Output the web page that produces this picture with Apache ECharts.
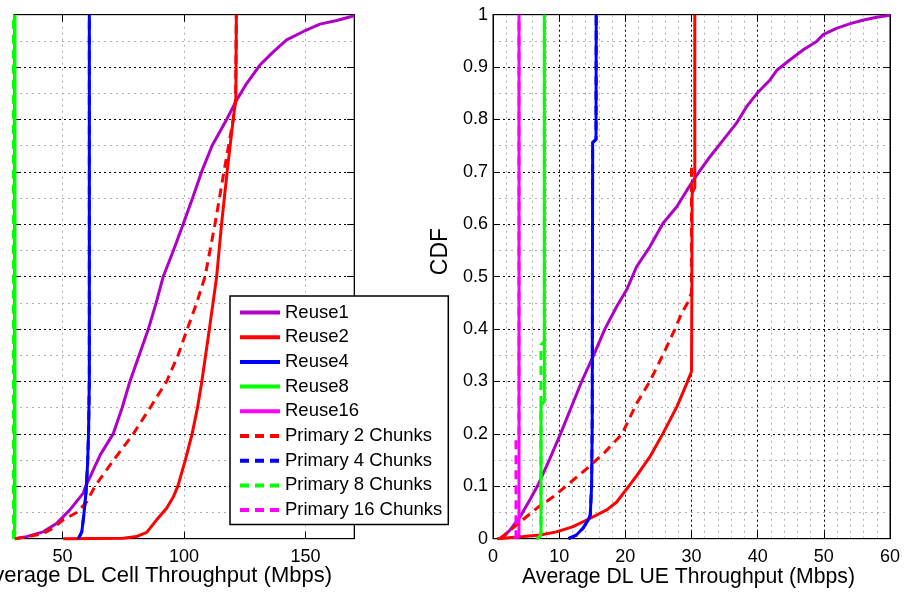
<!DOCTYPE html>
<html>
<head>
<meta charset="utf-8">
<script src="https://cdn.jsdelivr.net/npm/echarts@6/dist/echarts.min.js"></script>
<style>html,body{margin:0;padding:0;background:#fff}#c{width:906px;height:592px}</style>
</head>
<body>
<div id="c"></div>
<script>
// ---------- DATA ----------
const seriesNames = ['Reuse1','Reuse2','Reuse4','Reuse8','Reuse16','Primary 2 Chunks','Primary 4 Chunks','Primary 8 Chunks','Primary 16 Chunks'];
const cellTicks = [50, 100, 150];
const ueTicks = [0, 10, 20, 30, 40, 50, 60];
const cdfTicks = [0, 0.1, 0.2, 0.3, 0.4, 0.5, 0.6, 0.7, 0.8, 0.9, 1];

// Left plot: Average DL Cell Throughput (Mbps) vs CDF
const cellReuse1 = [[30.4,0],[35.2,0.004],[42,0.013],[47.5,0.029],[53,0.055],[58.5,0.087],[59.5,0.1],[62.5,0.13],[65.5,0.16],[70.8,0.2],[74.5,0.25],[77.7,0.3],[81.5,0.35],[85.3,0.4],[88.5,0.45],[91.4,0.5],[95.6,0.55],[99.6,0.6],[103.5,0.65],[107.2,0.7],[111.5,0.75],[117.5,0.8],[121.6,0.837],[125.8,0.869],[131.2,0.904],[136.7,0.929],[142.2,0.952],[149.1,0.968],[155.9,0.982],[162.8,0.989],[170,0.998]];
const cellReuse2 = [[50.3,0],[75,0.001],[80.4,0.004],[84.6,0.012],[88.7,0.036],[92.8,0.058],[95.6,0.08],[97.4,0.1],[100.5,0.15],[103.3,0.2],[105.5,0.25],[107.3,0.3],[110.4,0.4],[113.4,0.5],[115.4,0.6],[117.7,0.7],[120.2,0.8],[121.3,0.84],[121.5,1]];
const cellReuse4 = [[56.5,0],[57.9,0.013],[58.8,0.048],[59.6,0.087],[60.3,0.144],[60.7,0.207],[61.0,0.303],[61.0,1]];
const cellReuse8 = [[30.0,0],[30.3,0.01],[30.4,0.05],[30.4,1]];
const cellPrim2 = [[30.4,0],[36,0.004],[42,0.01],[46,0.02],[50.3,0.036],[55.8,0.05],[59.9,0.07],[63.3,0.1],[71,0.15],[79.1,0.2],[86,0.25],[92.8,0.3],[97.5,0.35],[101.3,0.4],[105.2,0.45],[108.6,0.5],[112.7,0.6],[116.4,0.7],[120.2,0.8],[121.2,0.84],[121.5,1]];
const cellPrim4 = [[56.5,0],[57.9,0.013],[58.8,0.048],[59.6,0.087],[60.3,0.144],[60.7,0.207],[61.0,0.303],[61.0,1]];
const cellPrim8 = [[29.7,0],[29.7,1]];

// Right plot: Average DL UE Throughput (Mbps) vs CDF
const ueReuse1 = [[1.2,0],[1.6,0.004],[2.6,0.017],[4.1,0.042],[5.6,0.075],[6.7,0.1],[8.5,0.15],[10.2,0.2],[11.8,0.25],[13.4,0.3],[15.2,0.35],[16.9,0.4],[18.7,0.443],[20.2,0.475],[21.7,0.519],[23.7,0.557],[25.7,0.602],[27.8,0.634],[29.8,0.675],[31.3,0.703],[32.8,0.729],[34.8,0.761],[36.8,0.793],[38.3,0.824],[39.9,0.85],[41.9,0.876],[42.9,0.894],[44.9,0.914],[46.9,0.933],[48.9,0.949],[49.9,0.962],[51.9,0.974],[54,0.983],[56,0.99],[58,0.995],[60,0.999]];
const ueReuse2 = [[0.6,0],[4.6,0.004],[7.1,0.007],[9.6,0.013],[12.1,0.023],[14.7,0.039],[17.2,0.055],[18.7,0.07],[20.5,0.1],[21.7,0.12],[23.7,0.156],[25.7,0.201],[27.8,0.252],[29.3,0.297],[30.0,0.319],[30.05,0.46],[30.1,0.66],[30.5,0.67],[30.5,1]];
const ueReuse4 = [[11.4,0],[12.6,0.007],[13.6,0.02],[14.4,0.036],[14.7,0.045],[14.9,0.1],[15.0,0.227],[15.06,0.756],[15.57,0.762],[15.6,1]];
const ueReuse8 = [[6.6,0],[7.1,0.004],[7.25,0.01],[7.25,0.255],[7.76,0.262],[7.76,1]];
const ueReuse16 = [[3.6,0],[3.93,0.005],[3.93,1]];
const uePrim2 = [[1.0,0],[2.6,0.016],[4.4,0.035],[6.6,0.058],[9.1,0.08],[11,0.1],[14.3,0.135],[16.9,0.165],[19.5,0.2],[21.7,0.258],[23.7,0.3],[25.8,0.354],[27.5,0.4],[28.5,0.43],[29.5,0.452],[30.0,0.47],[30.0,0.72]];
const uePrim4 = [[11.4,0],[12.6,0.007],[13.6,0.02],[14.4,0.036],[14.7,0.045],[14.9,0.1],[15.0,0.227],[15.06,0.756],[15.57,0.762],[15.6,1]];
const uePrim8 = [[6.7,0],[7.1,0.005],[7.25,0.01],[7.25,0.37],[7.76,0.376],[7.76,1]];
const uePrim16 = [[3.2,0],[3.48,0.005],[3.48,0.19],[3.93,0.196],[3.93,1]];

// ---------- STYLE ----------
const FONT = '"Liberation Sans", Arial, Helvetica, sans-serif';
const colors = {Reuse1:'#B000C8', Reuse2:'#FF0000', Reuse4:'#0000FF', Reuse8:'#00FF00', Reuse16:'#FF00FF',
  'Primary 2 Chunks':'#FF0000','Primary 4 Chunks':'#0000FF','Primary 8 Chunks':'#00FF00','Primary 16 Chunks':'#FF00FF'};
const DASH = [9, 6];
const majorGrid = {show:true, lineStyle:{color:'#000', width:1, type:[2,3]}};
const minorGrid = {show:true, lineStyle:{color:'#b0b0b0', width:1, type:[2,4]}};
const axisLine = {show:true, onZero:false, lineStyle:{color:'#000', width:1}};
const tick = {show:true, inside:true, length:7, lineStyle:{color:'#000', width:1}};
const lbl = {color:'#000', fontSize:18, fontFamily:FONT};

const G0 = {left:14, top:14.7, width:340.2, height:524};
const G1 = {left:493, top:14.7, width:397, height:524};

function mk(name, data, xi, dashed) {
  return {
    name, type:'line', data, xAxisIndex:xi, yAxisIndex:xi, showSymbol:false, symbol:'none',
    clip:false, animation:false,
    lineStyle:{color:colors[name], width:3, type: dashed ? DASH : 'solid'},
    itemStyle:{color:colors[name]}
  };
}

const option = {
  animation:false,
  backgroundColor:'#fff',
  grid:[
    Object.assign({show:true, borderColor:'#000', borderWidth:1, containLabel:false, outerBoundsMode:'none'}, G0),
    Object.assign({show:true, borderColor:'#000', borderWidth:1, containLabel:false, outerBoundsMode:'none'}, G1)
  ],
  xAxis:[
    {gridIndex:0, type:'value', position:'bottom', min:30, max:170, interval:5,
     axisLine, axisTick:Object.assign({}, tick, {customValues:cellTicks}),
     axisLabel:Object.assign({}, lbl, {margin:9, customValues:cellTicks}),
     splitLine:{show:true, lineStyle:{color:'#b0b0b0', width:1, type:[2,4]}}},
    {gridIndex:0, type:'value', position:'top', min:30, max:170, interval:5,
     axisLine, axisTick:Object.assign({}, tick, {customValues:cellTicks}),
     axisLabel:{show:false}, splitLine:{show:false}},
    {gridIndex:1, type:'value', position:'bottom', min:0, max:60, interval:10,
     axisLine, axisTick:tick, axisLabel:Object.assign({}, lbl, {margin:9}),
     splitLine:majorGrid, minorTick:{show:false, splitNumber:5}, minorSplitLine:minorGrid},
    {gridIndex:1, type:'value', position:'top', min:0, max:60, interval:10,
     axisLine, axisTick:tick, axisLabel:{show:false}, splitLine:{show:false}}
  ],
  yAxis:[
    {gridIndex:0, type:'value', position:'left', min:0, max:1, interval:0.1,
     axisLine, axisTick:tick, axisLabel:{show:false},
     splitLine:majorGrid, minorTick:{show:false, splitNumber:2}, minorSplitLine:minorGrid},
    {gridIndex:0, type:'value', position:'right', min:0, max:1, interval:0.1,
     axisLine, axisTick:tick, axisLabel:{show:false}, splitLine:{show:false}},
    {gridIndex:1, type:'value', position:'left', min:0, max:1, interval:0.1,
     axisLine, axisTick:tick,
     axisLabel:Object.assign({}, lbl, {margin:5, formatter:function(v){ return String(Math.round(v*10)/10); }}),
     splitLine:majorGrid, minorTick:{show:false, splitNumber:2}, minorSplitLine:minorGrid},
    {gridIndex:1, type:'value', position:'right', min:0, max:1, interval:0.1,
     axisLine, axisTick:tick, axisLabel:{show:false}, splitLine:{show:false}}
  ],
  legend:{
    show:true, orient:'vertical', left:230, top:296,
    data:seriesNames,
    backgroundColor:'#fff', borderColor:'#000', borderWidth:1.5, borderRadius:0,
    padding:[7,6,5,8], itemWidth:40, itemHeight:14, itemGap:5.7,
    itemStyle:{opacity:0, borderWidth:0},
    lineStyle:{width:4},
    textStyle:{color:'#000', fontSize:18.5, fontFamily:FONT},
    z:10
  },
  graphic:[
    {type:'text', x:332, y:576, z:100,
     style:{text:'Average DL Cell Throughput (Mbps)', font:'22px ' + FONT, fill:'#000',
            textAlign:'right', textVerticalAlign:'middle', verticalAlign:'middle'}},
    {type:'text', x:688.5, y:577, z:100,
     style:{text:'Average DL UE Throughput (Mbps)', font:'21.2px ' + FONT, fill:'#000',
            textAlign:'center', textVerticalAlign:'middle', verticalAlign:'middle'}},
    {type:'text', x:441, y:251.5, rotation:Math.PI/2, z:100,
     style:{text:'CDF', font:'23px ' + FONT, fill:'#000',
            textAlign:'center', textVerticalAlign:'middle', verticalAlign:'middle'}}
  ],
  series:[
    mk('Reuse1', cellReuse1, 0, false),
    mk('Reuse2', cellReuse2, 0, false),
    mk('Reuse4', cellReuse4, 0, false),
    mk('Reuse8', cellReuse8, 0, false),
    mk('Primary 2 Chunks', cellPrim2, 0, true),
    mk('Primary 4 Chunks', cellPrim4, 0, true),
    mk('Primary 8 Chunks', cellPrim8, 0, true),
    mk('Reuse1', ueReuse1, 2, false),
    mk('Reuse2', ueReuse2, 2, false),
    mk('Reuse4', ueReuse4, 2, false),
    mk('Reuse8', ueReuse8, 2, false),
    mk('Reuse16', ueReuse16, 2, false),
    mk('Primary 2 Chunks', uePrim2, 2, true),
    mk('Primary 4 Chunks', uePrim4, 2, true),
    mk('Primary 8 Chunks', uePrim8, 2, true),
    mk('Primary 16 Chunks', uePrim16, 2, true)
  ]
};

const chart = echarts.init(document.getElementById('c'), null, {renderer:'canvas'});
chart.setOption(option);
</script>
</body>
</html>
